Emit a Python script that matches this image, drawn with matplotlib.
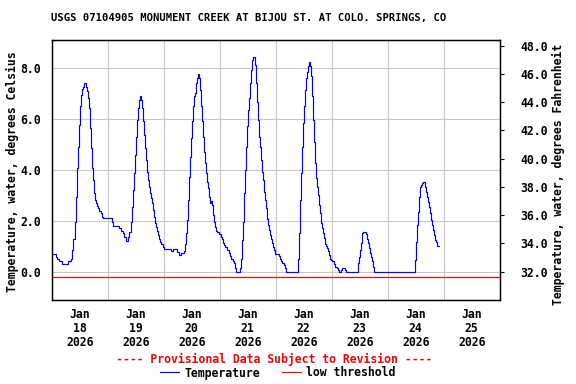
import matplotlib
matplotlib.use('Agg')
import matplotlib.pyplot as plt
import matplotlib.dates as mdates
from matplotlib.ticker import FormatStrFormatter
import pandas as pd

plt.rcParams['font.family'] = 'DejaVu Sans Mono'
plt.rcParams['font.weight'] = 'bold'
plt.rcParams['font.size'] = 8.3

title = 'USGS 07104905 MONUMENT CREEK AT BIJOU ST. AT COLO. SPRINGS, CO'

# hours since 2026-01-18 00:00, value holds until next reading (step plot)
hours = [
    # Jan 18
    0.0, 1.7, 2.4, 3.0, 4.6, 7.1, 8.1, 8.7, 9.3, 9.8,
    10.3, 10.7, 11.1, 11.6, 12.0, 12.4, 12.8, 13.3, 13.7, 14.6,
    15.0, 15.4, 15.8, 16.3, 16.7, 17.1, 17.6, 18.0, 18.4, 18.8,
    19.3, 19.7, 20.4, 21.0, 21.7, 22.1, 25.7, 26.4,
    # Jan 19
    29.0, 29.7, 30.5, 31.2, 31.9, 32.6, 33.3, 33.9, 34.3, 34.7,
    35.2, 35.6, 36.0, 36.5, 36.9, 37.3, 37.7, 38.3, 38.7, 39.2,
    39.6, 40.0, 40.5, 40.9, 41.3, 41.7, 42.2, 42.6, 43.0, 43.5,
    43.9, 44.3, 44.7, 45.3, 45.7, 46.2, 46.6, 47.0, 47.6, 48.3,
    51.2, 51.9, 53.7, 54.5, 55.5,
    # Jan 20
    56.6, 57.0, 57.4, 57.9, 58.3, 58.7, 59.1, 59.6, 60.0, 60.4,
    60.9, 61.3, 61.7, 62.1, 62.6, 63.3, 63.7, 64.1, 64.6, 65.0,
    65.4, 65.9, 66.3, 66.7, 67.1, 67.6, 68.0, 68.4, 68.7, 69.1,
    69.6, 70.0, 70.4, 71.0, 71.7, 72.4, 73.0, 73.4, 73.9, 74.4,
    75.3, 75.9, 76.6, 77.0, 77.6, 78.1, 78.7, 79.1, 80.9, 81.3,
    81.7, 82.1, 82.6, 83.0, 83.4, 83.9, 84.3, 84.7,
    # Jan 21
    85.0, 85.4, 85.8, 86.3, 87.0, 87.4, 87.8, 88.3, 88.7, 89.1,
    89.6, 90.0, 90.4, 90.8, 91.3, 91.7, 92.1, 92.6, 93.0, 93.4,
    93.8, 94.3, 94.7, 95.1, 95.6, 97.3, 97.8, 98.4, 98.8, 99.4,
    100.0, 100.6, 105.6, 106.0, 106.4, 106.9, 107.3, 107.7, 108.1, 108.6,
    109.0, 109.4, 109.9, 110.3, 110.9, 111.3, 111.7, 112.1,
    # Jan 22-23
    112.5, 112.9, 113.3, 113.7, 114.1, 114.6, 115.0, 115.4, 115.9, 116.3,
    116.7, 117.1, 117.6, 118.0, 118.4, 118.9, 119.3, 119.7, 120.3, 120.9,
    121.4, 122.1, 122.7, 123.3, 123.9, 124.3, 125.7, 126.3, 131.3, 131.7,
    132.1, 132.6, 133.0, 133.4, 134.7, 135.1, 135.6, 136.0, 136.4, 137.0,
    137.4, 137.9, 138.3,
    # Jan 24
    155.8, 156.3, 156.7, 157.1, 157.6, 158.0, 158.4, 158.8, 159.3, 160.1,
    160.6, 161.0, 161.4, 161.9, 162.3, 162.7, 163.1, 163.6, 164.0, 164.4,
    164.9, 165.3, 165.9,
]

temp_c = [
    0.68, 0.59, 0.50, 0.42, 0.30, 0.42, 0.52, 0.85, 1.30, 1.97,
    2.95, 4.07, 4.92, 5.77, 6.50, 6.96, 7.18, 7.28, 7.41, 7.28,
    7.09, 6.82, 6.43, 5.64, 4.86, 4.07, 3.61, 3.08, 2.82, 2.69,
    2.60, 2.49, 2.40, 2.30, 2.17, 2.10, 1.97, 1.80,

    1.71, 1.60, 1.51, 1.38, 1.21, 1.38, 1.57, 1.97, 2.56, 3.22,
    3.87, 4.59, 5.31, 5.97, 6.43, 6.76, 6.89, 6.76, 6.43, 5.91,
    5.38, 4.86, 4.40, 3.94, 3.61, 3.35, 3.08, 2.89, 2.69, 2.43,
    2.17, 1.93, 1.75, 1.60, 1.44, 1.27, 1.17, 1.09, 0.98, 0.89,
    0.83, 0.89, 0.79, 0.66, 0.72,

    0.83, 1.09, 1.51, 2.03, 2.82, 3.74, 4.53, 5.25, 5.91, 6.50,
    6.89, 7.02, 7.41, 7.61, 7.77, 7.61, 7.15, 6.50, 5.91, 5.31,
    4.72, 4.27, 3.87, 3.54, 3.28, 2.95, 2.69, 2.78, 2.62, 2.23,
    1.97, 1.77, 1.61, 1.57, 1.48, 1.38, 1.27, 1.15, 1.05, 0.96,
    0.85, 0.75, 0.62, 0.52, 0.43, 0.33, 0.16, 0.00, 0.16, 0.52,
    1.25, 1.97, 3.08, 4.00, 4.92, 5.71, 6.36, 6.82,

    7.41, 7.94, 8.31, 8.44, 8.14, 7.41, 6.69, 5.97, 5.31, 4.92,
    4.40, 3.94, 3.61, 3.15, 2.82, 2.49, 2.06, 1.84, 1.64, 1.44,
    1.27, 1.14, 0.98, 0.85, 0.68, 0.62, 0.52, 0.43, 0.35, 0.26,
    0.13, 0.00, 0.50, 1.51, 2.82, 3.87, 4.92, 5.84, 6.50, 7.15,
    7.61, 7.85, 8.07, 8.23, 8.07, 7.68, 6.89, 5.97,

    5.10, 4.27, 3.67, 3.35, 3.02, 2.62, 2.30, 1.93, 1.71, 1.51,
    1.31, 1.09, 1.01, 0.92, 0.81, 0.66, 0.52, 0.46, 0.42, 0.30,
    0.20, 0.16, 0.07, 0.00, 0.07, 0.16, 0.07, 0.00, 0.33, 0.59,
    0.85, 1.14, 1.51, 1.57, 1.48, 1.27, 1.12, 0.92, 0.72, 0.59,
    0.42, 0.20, 0.00,

    0.46, 1.18, 1.84, 2.36, 2.95, 3.35, 3.41, 3.48, 3.52, 3.35,
    3.15, 2.95, 2.76, 2.56, 2.30, 2.03, 1.84, 1.64, 1.44, 1.25,
    1.18, 1.01, 1.01,
]

low_threshold = -0.2
c_ticks = [0, 2, 4, 6, 8]
f_ticks = [32, 34, 36, 38, 40, 42, 44, 46, 48]
c_lim = (-1.11, 9.11)

start = pd.Timestamp('2026-01-18')
times = start + pd.to_timedelta(hours, unit='h')

fig = plt.figure(figsize=(5.76, 3.84), dpi=100)
ax = fig.add_axes([51.7 / 576, 1 - 300 / 384, 448 / 576, 260 / 384])

ax.step(times, temp_c, where='post', color='#0000ff', lw=0.85, label='Temperature', zorder=3)
ax.axhline(low_threshold, color='#ff0000', lw=0.85, label='low threshold', zorder=2)

ax.set_xlim(start, start + pd.Timedelta(days=8))
ax.set_ylim(*c_lim)
ax.set_yticks(c_ticks)
ax.yaxis.set_major_formatter(FormatStrFormatter('%.1f'))
ax.xaxis.set_major_locator(mdates.HourLocator(byhour=[12]))
ax.xaxis.set_major_formatter(mdates.DateFormatter('%b\n%d\n%Y'))
ax.xaxis.set_minor_locator(mdates.DayLocator())
ax.grid(which='minor', axis='x', color='#c8c8c8', lw=0.8)
ax.grid(which='major', axis='y', color='#c8c8c8', lw=0.8)
ax.tick_params(axis='x', which='both', length=0, pad=6)
ax.tick_params(axis='y', length=0, pad=8)
for lab in ax.get_xticklabels():
    lab.set_linespacing(1.1)
for s in ax.spines.values():
    s.set_linewidth(1.0)

ax2 = ax.twinx()
ax2.set_ylim(c_lim[0] * 1.8 + 32, c_lim[1] * 1.8 + 32)
ax2.set_yticks(f_ticks)
ax2.yaxis.set_major_formatter(FormatStrFormatter('%.1f'))
ax2.tick_params(axis='y', length=3, pad=12)

fig.text(249 / 576, 1 - 18 / 384, title, fontsize=7.6, ha='center', va='center')
fig.text(12 / 576, 1 - 172 / 384, 'Temperature, water, degrees Celsius',
         rotation=90, ha='center', va='center')
fig.text(558 / 576, 1 - 174 / 384, 'Temperature, water, degrees Fahrenheit',
         rotation=90, ha='center', va='center')
fig.text(274.5 / 576, 1 - 359 / 384, '---- Provisional Data Subject to Revision ----',
         color='#ff0000', ha='center', va='center')

handles, labels = ax.get_legend_handles_labels()
fig.legend(handles, labels, loc='center', bbox_to_anchor=(278 / 576, 1 - 373 / 384),
           ncol=2, frameon=False, handlelength=1.6, handletextpad=0.5,
           columnspacing=1.9, borderpad=0, borderaxespad=0)

fig.savefig('out.png', dpi=100)
